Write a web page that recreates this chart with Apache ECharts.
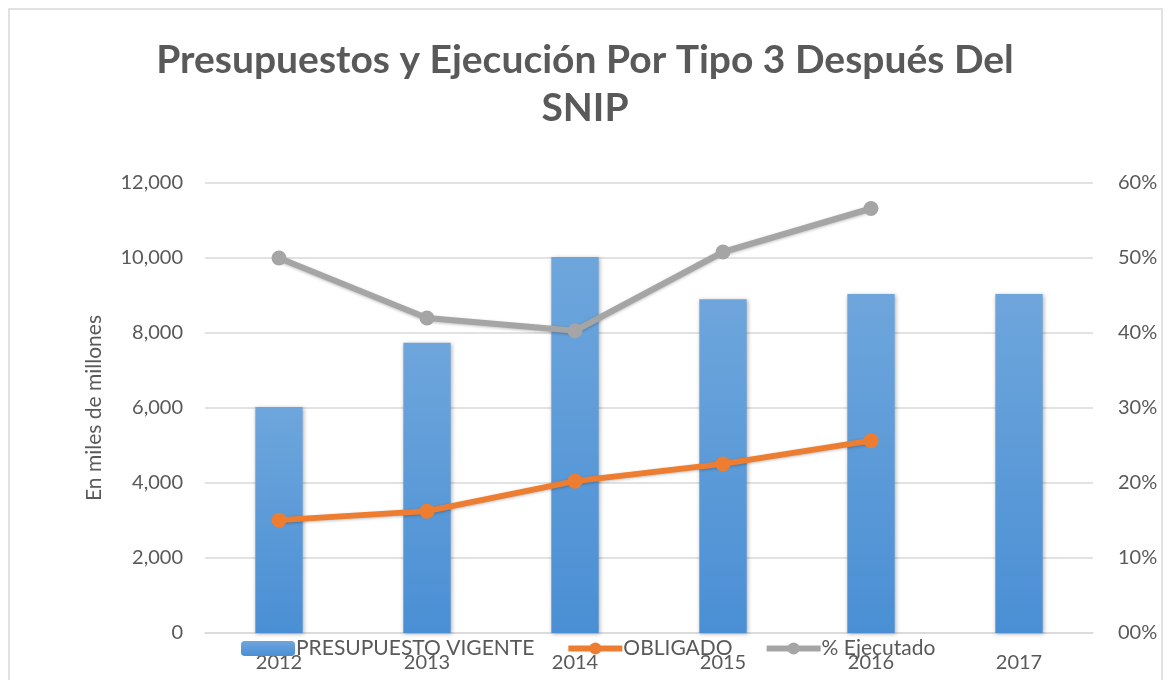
<!DOCTYPE html>
<html>
<head>
<meta charset="utf-8">
<script src="https://cdn.jsdelivr.net/npm/echarts@6/dist/echarts.min.js"></script>
<style>
  html, body { margin: 0; padding: 0; background: #fff; }
  #chart { width: 1170px; height: 680px; }
</style>
</head>
<body>
<div id="chart"></div>
<script>
// datos
var years = ['2012', '2013', '2014', '2015', '2016', '2017']
var presupuestoVigente = [6030, 7740, 10030, 8900, 9040, 9040]
var obligado = [3010, 3250, 4050, 4510, 5130, null]
var ejecutado = [0.50, 0.42, 0.403, 0.508, 0.566, null]

var textColor = '#595959'
var gridColor = '#d9d9d9'
var font = 'Lato, "Open Sans", sans-serif'

var myChart = echarts.init(document.getElementById('chart'))

var option = {
  animation: false,
  textStyle: { fontFamily: font },
  title: {
    text: 'Presupuestos y Ejecución Por Tipo 3 Después Del\nSNIP',
    left: 'center',
    top: 31,
    textStyle: {
      fontFamily: font,
      fontSize: 39,
      fontWeight: 'bold',
      color: textColor,
      lineHeight: 48
    }
  },
  graphic: [{
    type: 'rect',
    shape: { x: 9, y: 9, width: 1153, height: 700 },
    style: { fill: 'none', stroke: gridColor, lineWidth: 1.5 },
    silent: true
  }],
  legend: {
    left: 236,
    top: 633,
    itemWidth: 54,
    itemHeight: 15,
    itemGap: 31,
    lineStyle: { width: 6 },
    textStyle: { fontFamily: font, fontSize: 21, color: textColor, padding: [0, 0, 0, -4] },
    data: ['PRESUPUESTO VIGENTE', 'OBLIGADO', '% Ejecutado']
  },
  grid: { left: 205, right: 77, top: 183, bottom: 47 },
  xAxis: {
    type: 'category',
    data: years,
    axisLine: { lineStyle: { color: gridColor, width: 1.5 } },
    axisTick: { show: false },
    axisLabel: { fontFamily: font, fontSize: 20, color: textColor, margin: 20 }
  },
  yAxis: [
    {
      type: 'value',
      min: 0,
      max: 12000,
      interval: 2000,
      name: 'En miles de millones',
      nameLocation: 'middle',
      nameGap: 100,
      nameTextStyle: { fontFamily: font, fontSize: 21, color: textColor },
      axisLabel: {
        fontFamily: font, fontSize: 20, color: textColor, margin: 22,
        formatter: function (v) { return v.toLocaleString('en-US') }
      },
      splitLine: { lineStyle: { color: gridColor, width: 1.5 } }
    },
    {
      type: 'value',
      min: 0,
      max: 0.6,
      interval: 0.1,
      axisLabel: {
        fontFamily: font, fontSize: 20, color: textColor, margin: 25,
        formatter: function (v) { return String(Math.round(v * 100)).padStart(2, '0') + '%' }
      },
      splitLine: { show: false }
    }
  ],
  series: [
    {
      name: 'PRESUPUESTO VIGENTE',
      type: 'bar',
      data: presupuestoVigente,
      barWidth: '32%',
      itemStyle: {
        color: new echarts.graphic.LinearGradient(0, 0, 0, 1, [
          { offset: 0, color: '#6ea6dc' },
          { offset: 1, color: '#4a8fd4' }
        ]),
        shadowColor: 'rgba(0,0,0,0.3)',
        shadowBlur: 4,
        shadowOffsetX: 1,
        shadowOffsetY: 1
      },
      z: 1
    },
    {
      name: 'OBLIGADO',
      type: 'line',
      data: obligado,
      symbol: 'circle',
      symbolSize: 15,
      lineStyle: { color: '#ed7d31', width: 6, shadowColor: 'rgba(0,0,0,0.25)', shadowBlur: 3, shadowOffsetY: 1 },
      itemStyle: { color: '#ed7d31' },
      z: 3
    },
    {
      name: '% Ejecutado',
      type: 'line',
      yAxisIndex: 1,
      data: ejecutado,
      symbol: 'circle',
      symbolSize: 15,
      lineStyle: { color: '#a5a5a5', width: 6, shadowColor: 'rgba(0,0,0,0.25)', shadowBlur: 3, shadowOffsetY: 1 },
      itemStyle: { color: '#a5a5a5' },
      z: 3
    }
  ]
}

myChart.setOption(option)
</script>
</body>
</html>
